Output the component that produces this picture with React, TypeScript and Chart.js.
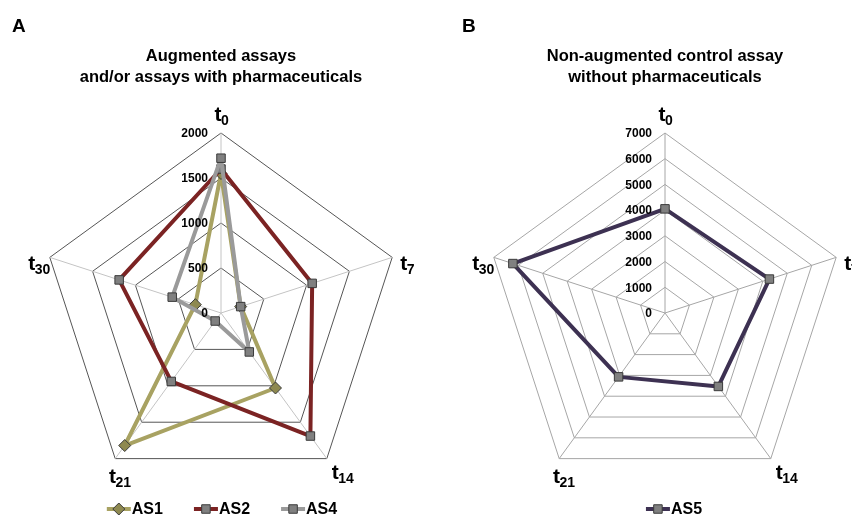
import React, { useEffect, useRef } from 'react';
import { Chart, registerables } from 'chart.js';

Chart.register(...registerables);

// ---- data ----
const TIME_POINTS = ['0', '7', '14', '21', '30'];
const AS1 = [1550, 230, 1030, 1820, 300];
const AS2 = [1600, 1065, 1690, 940, 1190];
const AS4 = [1720, 230, 535, 110, 570];
const AS5 = [4050, 4270, 3530, 3070, 6220];
const TICKS_A = [0, 500, 1000, 1500, 2000];
const TICKS_B = [0, 1000, 2000, 3000, 4000, 5000, 6000, 7000];
const TITLE_A = ['Augmented assays', 'and/or assays with pharmaceuticals'];
const TITLE_B = ['Non-augmented control assay', 'without pharmaceuticals'];

// ---- style ----
const FONT = '"Liberation Sans", Arial, Helvetica, sans-serif';
const MARKER_FILL = '#808080';
const MARKER_BORDER = '#3a3a3a';
// label placement relative to each axis end: [align, dx, dy of "t" baseline]
const LABEL_PLACE: [string, number, number][] = [
  ['center', 1, -12],
  ['left', 8, 13],
  ['left', 5, 20],
  ['center', 5, 24],
  ['right', 1, 13],
];

function drawMarker(ctx: CanvasRenderingContext2D, style: string, x: number, y: number, fill: string) {
  ctx.save();
  ctx.fillStyle = fill;
  ctx.strokeStyle = MARKER_BORDER;
  ctx.lineWidth = 1;
  ctx.beginPath();
  if (style === 'rectRot') {
    const r = 6;
    ctx.moveTo(x, y - r);
    ctx.lineTo(x + r, y);
    ctx.lineTo(x, y + r);
    ctx.lineTo(x - r, y);
    ctx.closePath();
  } else {
    const s = 4.25;
    ctx.rect(x - s, y - s, 2 * s, 2 * s);
  }
  ctx.fill();
  ctx.stroke();
  ctx.restore();
}

const decorPlugin = {
  id: 'decor',
  afterDraw(chart: any, _args: any, opts: any) {
    const ctx: CanvasRenderingContext2D = chart.ctx;
    const scale = chart.scales.r;
    ctx.save();
    // panel letter
    ctx.fillStyle = '#000';
    ctx.font = `bold 19px ${FONT}`;
    ctx.textAlign = 'left';
    ctx.textBaseline = 'alphabetic';
    ctx.fillText(opts.letter, opts.letterX, 32);

    // tick labels
    ctx.font = `bold 12px ${FONT}`;
    ctx.textAlign = 'right';
    ctx.textBaseline = 'middle';
    (opts.ticks as number[]).forEach((v) => {
      const d = scale.getDistanceFromCenterForValue(v);
      ctx.fillText(String(v), scale.xCenter - 13, scale.yCenter - d + 1);
    });

    // point labels t with subscript
    const labels: string[] = chart.data.labels;
    labels.forEach((sub, i) => {
      const p = scale.getPointPosition(i, scale.drawingArea);
      const [align, dx, dy] = LABEL_PLACE[i];
      ctx.font = `bold 21px ${FONT}`;
      const w1 = ctx.measureText('t').width;
      ctx.font = `bold 14px ${FONT}`;
      const w2 = ctx.measureText(sub).width;
      const total = w1 + w2;
      const ax = p.x + dx;
      const x0 = align === 'left' ? ax : align === 'right' ? ax - total : ax - total / 2;
      const yb = p.y + dy;
      ctx.textAlign = 'left';
      ctx.textBaseline = 'alphabetic';
      ctx.font = `bold 21px ${FONT}`;
      ctx.fillText('t', x0, yb);
      ctx.font = `bold 14px ${FONT}`;
      ctx.fillText(sub, x0 + w1 - 0.5, yb + 4);
    });

    // legend
    const items = chart.data.datasets;
    const iconW = 24;
    const gap = 31;
    ctx.font = `bold 16px ${FONT}`;
    const widths = items.map((d: any) => iconW + 1 + ctx.measureText(d.label).width);
    const total = widths.reduce((a: number, b: number) => a + b, 0) + gap * (items.length - 1);
    let x = scale.xCenter + opts.legendShift - total / 2;
    const y = 509;
    items.forEach((d: any, i: number) => {
      ctx.strokeStyle = d.borderColor;
      ctx.lineWidth = 4;
      ctx.lineCap = 'butt';
      ctx.beginPath();
      ctx.moveTo(x, y);
      ctx.lineTo(x + iconW, y);
      ctx.stroke();
      drawMarker(ctx, d.pointStyle, x + iconW / 2, y, d.pointBackgroundColor);
      ctx.fillStyle = '#000';
      ctx.textAlign = 'left';
      ctx.textBaseline = 'middle';
      ctx.font = `bold 16px ${FONT}`;
      ctx.fillText(d.label, x + iconW + 1, y + 1);
      x += widths[i] + gap;
    });
    ctx.restore();
  },
};

function makeDataset(label: string, data: number[], line: string, fill: string, style: string, order: number) {
  return {
    label,
    data,
    borderColor: line,
    backgroundColor: line,
    borderWidth: 4,
    borderJoinStyle: 'round',
    fill: false,
    pointStyle: style,
    pointRadius: 6,
    pointHoverRadius: 6,
    pointBackgroundColor: fill,
    pointBorderColor: MARKER_BORDER,
    pointBorderWidth: 1,
    order,
  };
}

type PanelProps = {
  letter: string;
  letterX: number;
  title: string[];
  datasets: any[];
  max: number;
  step: number;
  ticks: number[];
  padLeft: number;
  gridColor: string;
  angleColor: string;
  legendShift: number;
};

function RadarPanel(props: PanelProps) {
  const ref = useRef<HTMLCanvasElement>(null);
  useEffect(() => {
    const chart = new Chart(ref.current as HTMLCanvasElement, {
      type: 'radar',
      data: { labels: TIME_POINTS, datasets: props.datasets },
      options: {
        responsive: true,
        maintainAspectRatio: false,
        animation: false,
        layout: { padding: { left: props.padLeft, right: 0, top: 0, bottom: 26 } },
        scales: {
          r: {
            min: 0,
            max: props.max,
            ticks: { display: false, stepSize: props.step },
            pointLabels: { display: false },
            grid: { color: props.gridColor, lineWidth: 1 },
            angleLines: { color: props.angleColor, lineWidth: 1 },
          },
        },
        plugins: {
          legend: { display: false },
          tooltip: { enabled: false },
          title: {
            display: true,
            text: props.title,
            color: '#000',
            font: { family: FONT, size: 16.5, weight: 'bold', lineHeight: '21px' },
            padding: { top: 45.5, bottom: 45.5 },
          },
          decor: {
            letter: props.letter,
            letterX: props.letterX,
            ticks: props.ticks,
            legendShift: props.legendShift,
          },
        } as any,
      } as any,
      plugins: [decorPlugin],
    });
    return () => chart.destroy();
  }, []);
  return (
    <div style={{ position: 'relative', width: 426, height: 519 }}>
      <canvas ref={ref} />
    </div>
  );
}

export default function App() {
  const dsA = [
    makeDataset('AS1', AS1, '#a8a262', '#8e8950', 'rectRot', 3),
    makeDataset('AS2', AS2, '#7b2323', MARKER_FILL, 'rect', 2),
    makeDataset('AS4', AS4, '#9a9a9a', MARKER_FILL, 'rect', 1),
  ];
  const dsB = [makeDataset('AS5', AS5, '#3d3152', MARKER_FILL, 'rect', 1)];
  return (
    <div
      style={{
        position: 'absolute',
        left: 0,
        top: 0,
        width: 852,
        height: 519,
        overflow: 'hidden',
        display: 'flex',
        background: '#fff',
      }}
    >
      <RadarPanel
        letter="A"
        letterX={12}
        title={TITLE_A}
        datasets={dsA}
        max={2000}
        step={500}
        ticks={TICKS_A}
        padLeft={16}
        gridColor="#555555"
        angleColor="#c4c4c4"
        legendShift={1}
      />
      <RadarPanel
        letter="B"
        letterX={36}
        title={TITLE_B}
        datasets={dsB}
        max={7000}
        step={1000}
        ticks={TICKS_B}
        padLeft={52}
        gridColor="#a6a6a6"
        angleColor="#a6a6a6"
        legendShift={9}
      />
    </div>
  );
}
